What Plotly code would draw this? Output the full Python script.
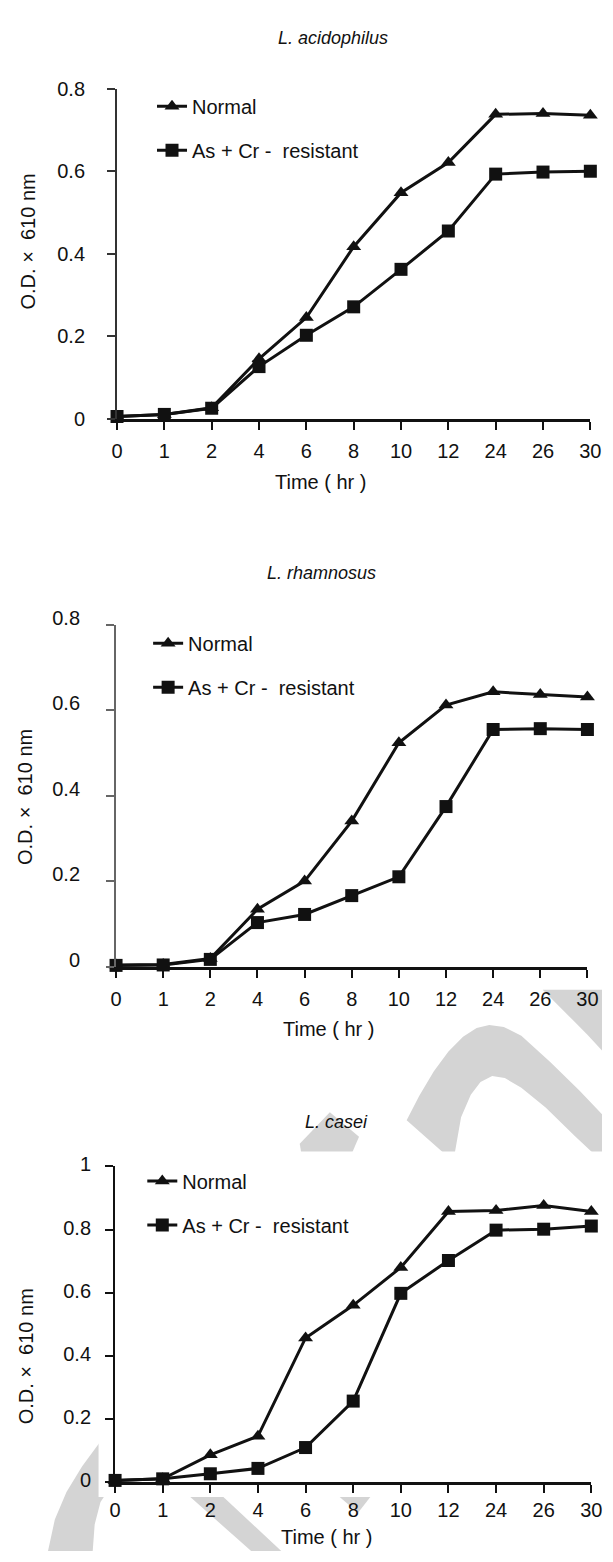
import plotly.graph_objects as go

# The page body keeps the browser's default 8px margin, so the figure is drawn 8px smaller
# and every target pixel position is shifted back by that offset.
PAGE_W, PAGE_H = 613, 1562
OFF = 8
W, H = PAGE_W - OFF, PAGE_H - OFF

time_labels = ["0", "1", "2", "4", "6", "8", "10", "12", "24", "26", "30"]
x_idx = list(range(len(time_labels)))

titles = ["L. acidophilus", "L. rhamnosus", "L. casei"]
series_names = ["Normal", "As + Cr -  resistant"]

normal_acid = [0.005, 0.010, 0.026, 0.145, 0.245, 0.417, 0.548, 0.621, 0.738, 0.740, 0.736]
resist_acid = [0.005, 0.010, 0.025, 0.126, 0.202, 0.271, 0.362, 0.455, 0.593, 0.598, 0.600]

normal_rham = [0.005, 0.006, 0.020, 0.135, 0.201, 0.341, 0.524, 0.612, 0.643, 0.637, 0.631]
resist_rham = [0.004, 0.005, 0.018, 0.104, 0.123, 0.167, 0.211, 0.375, 0.555, 0.557, 0.555]

normal_casei = [0.006, 0.011, 0.087, 0.146, 0.457, 0.560, 0.680, 0.857, 0.860, 0.876, 0.857]
resist_casei = [0.006, 0.011, 0.027, 0.044, 0.110, 0.257, 0.598, 0.702, 0.798, 0.801, 0.811]

y_ticks_a = [0, 0.2, 0.4, 0.6, 0.8]
y_ticks_c = [0, 0.2, 0.4, 0.6, 0.8, 1]

FONT = "Liberation Sans, Arial, sans-serif"
INK = "#111111"


def px(x):
    return min(1.0, (x - OFF) / W)


def py(y):
    return 1 - (y - OFF) / H


panels = [
    dict(x0=114, x1=601, yb=408, yt=72, yr=[0, 0.8], yt_vals=y_ticks_a, ycol="#333333",
         ystand=18, xstand=4, shift=0, normal=normal_acid, resist=resist_acid,
         title_xy=(336, 20), time_xy=(323, 473), ylab_xy=(22, 228), leg_xy=(150, 70)),
    dict(x0=113, x1=598, yb=967, yt=618, yr=[0, 0.8], yt_vals=y_ticks_a, ycol="#666666",
         ystand=22, xstand=4, shift=-7, normal=normal_rham, resist=resist_rham,
         title_xy=(324, 565), time_xy=(332, 1030), ylab_xy=(20, 794), leg_xy=(146, 617)),
    dict(x0=112, x1=602, yb=1492, yt=1170, yr=[0, 1.0], yt_vals=y_ticks_c, ycol="#111111",
         ystand=10, xstand=0, shift=-2, normal=normal_casei, resist=resist_casei,
         title_xy=(340, 1125), time_xy=(330, 1548), ylab_xy=(20, 1364), leg_xy=(140, 1165)),
]

fig = go.Figure()
annotations = []
layout_axes = {}

for i, p in enumerate(panels):
    n = i + 1
    sfx = "" if n == 1 else str(n)
    leg = "legend" if n == 1 else f"legend{n}"
    xa, ya = f"x{sfx}", f"y{sfx}"
    fig.add_trace(go.Scatter(
        x=x_idx, y=p["normal"], mode="lines+markers", name=series_names[0],
        xaxis=xa, yaxis=ya, legend=leg, legendgroup=f"n{n}", cliponaxis=False,
        line=dict(color=INK, width=3),
        marker=dict(symbol="triangle-up", size=13, color=INK)))
    fig.add_trace(go.Scatter(
        x=x_idx, y=p["resist"], mode="lines+markers", name=series_names[1],
        xaxis=xa, yaxis=ya, legend=leg, legendgroup=f"r{n}", cliponaxis=False,
        line=dict(color=INK, width=3),
        marker=dict(symbol="square", size=13, color=INK)))

    layout_axes[f"xaxis{sfx}"] = dict(
        domain=[px(p["x0"]), px(p["x1"])], range=[0, 10], anchor=ya,
        tickmode="array", tickvals=x_idx, ticktext=time_labels,
        showline=True, linecolor=INK, linewidth=3, ticks="outside", ticklen=8,
        tickwidth=2, tickcolor=INK, showgrid=False, zeroline=False,
        ticklabelstandoff=p["xstand"],
        tickfont=dict(family=FONT, size=20, color=INK), fixedrange=True)
    layout_axes[f"yaxis{sfx}"] = dict(
        domain=[py(p["yb"]), py(p["yt"])], range=p["yr"], anchor=xa,
        tickmode="array", tickvals=p["yt_vals"], ticktext=[f"{v:g}" for v in p["yt_vals"]],
        showline=True, linecolor=p["ycol"], linewidth=2, ticks="outside", ticklen=8,
        tickwidth=2, tickcolor=p["ycol"], showgrid=False, zeroline=False,
        ticklabelstandoff=p["ystand"], ticklabelshift=p["shift"],
        tickfont=dict(family=FONT, size=20, color=INK), fixedrange=True)

    tx, ty = p["title_xy"]
    annotations.append(dict(text=f"<i>{titles[i]}</i>", x=px(tx), y=py(ty), xref="paper", yref="paper",
                            showarrow=False, xanchor="center", yanchor="middle",
                            font=dict(family=FONT, size=18, color=INK)))
    tx, ty = p["time_xy"]
    annotations.append(dict(text="Time ( hr )", x=px(tx), y=py(ty), xref="paper", yref="paper",
                            showarrow=False, xanchor="center", yanchor="middle",
                            font=dict(family=FONT, size=20, color=INK)))
    tx, ty = p["ylab_xy"]
    annotations.append(dict(text="O.D. \u00d7  610 nm", x=px(tx), y=py(ty), xref="paper", yref="paper",
                            showarrow=False, xanchor="center", yanchor="middle", textangle=-90,
                            font=dict(family=FONT, size=20, color=INK)))
    lx, ly = p["leg_xy"]
    layout_axes[leg] = dict(x=px(lx), y=py(ly), xanchor="left", yanchor="top",
                            bgcolor="rgba(0,0,0,0)", borderwidth=0, tracegroupgap=15,
                            font=dict(family=FONT, size=20, color=INK))

WM = "#d4d4d4"


def path(pts):
    return "M " + " L ".join(f"{px(x):.5f},{py(y):.5f}" for x, y in pts) + " Z"


wm_shapes = [
    [(552, 990), (613, 990), (613, 1052), (598, 1036), (582, 1020), (566, 1004)],
    [(412, 1123), (425, 1098), (440, 1073), (455, 1053), (470, 1038), (484, 1029), (497, 1026),
     (512, 1028), (530, 1037), (560, 1064), (590, 1093), (613, 1117), (613, 1165),
     (585, 1139), (555, 1110), (530, 1090), (513, 1080), (500, 1078), (488, 1084), (478, 1097),
     (468, 1120), (460, 1165)],
    [(302, 1147), (333, 1115), (363, 1140), (352, 1165), (305, 1165)],
    [(120, 1420), (95, 1453), (78, 1476), (62, 1502), (50, 1530), (43, 1562), (89, 1562),
     (91, 1535), (97, 1512), (112, 1490)],
    [(170, 1490), (205, 1490), (283, 1562), (252, 1562)],
    [(335, 1500), (380, 1500), (362, 1523)],
]
shapes = [dict(type="path", path=path(s), xref="paper", yref="paper", fillcolor=WM,
               line=dict(width=0), layer="below") for s in wm_shapes]
shapes.append(dict(type="rect", xref="paper", yref="paper", x0=px(95), x1=1.0,
                   y0=py(1507), y1=py(1155), fillcolor="white", line=dict(width=0), layer="below"))

fig.update_layout(
    width=W, height=H, margin=dict(l=0, r=0, t=0, b=0),
    paper_bgcolor="white", plot_bgcolor="rgba(0,0,0,0)",
    showlegend=True, annotations=annotations, shapes=shapes,
    font=dict(family=FONT, color=INK), **layout_axes)

fig.write_html("out.html")
